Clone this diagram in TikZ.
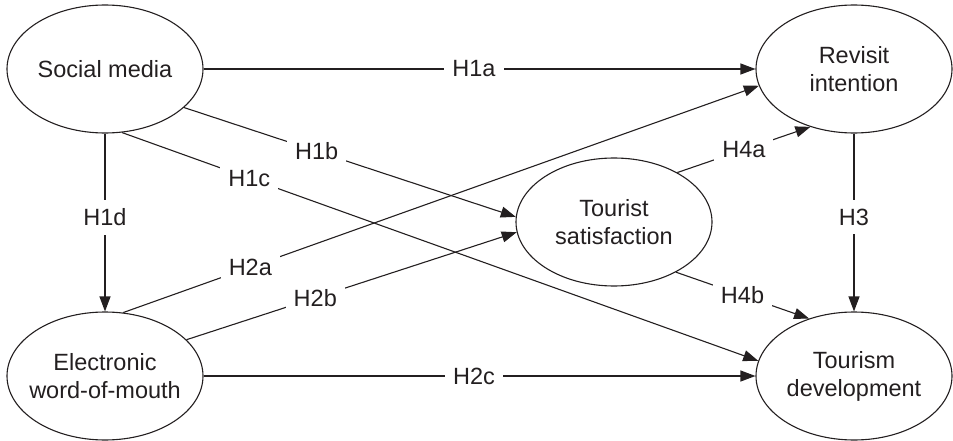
\documentclass[tikz,border=0pt]{standalone}
\usepackage{fontspec}
\setmainfont{Liberation Sans}
\usetikzlibrary{shapes.geometric,arrows.meta}
\definecolor{ink}{RGB}{35,31,32}
\begin{document}
\begin{tikzpicture}[x=1pt,y=-1pt,
  every node/.style={font=\fontsize{23.5}{28}\selectfont, text=ink},
  ell/.style={ellipse, draw=ink, line width=1.1pt, minimum width=196pt, minimum height=128pt, inner sep=0pt},
  lbl/.style={align=center, inner sep=0pt},
  conn/.style={draw=ink, line width=1.1pt, -{Triangle[length=15pt,width=11pt]}},
  hyp/.style={fill=white, inner xsep=8pt, inner ysep=9pt}]
\useasboundingbox (0,0) rectangle (953,441);

\node[ell] (sm) at (105,69) {};
\node[ell] (ri) at (854,69) {};
\node[ell] (ts) at (614,222) {};
\node[ell] (ew) at (105,376) {};
\node[ell] (td) at (854,376) {};

\node[lbl] (smt) at (sm) {Social media};
\node[lbl] (rit) at (ri) {Revisit\\intention};
\node[lbl] (tst) at (ts) {Tourist\\satisfaction};
\node[lbl] (ewt) at (ew) {Electronic\\word-of-mouth};
\node[lbl] (tdt) at (td) {Tourism\\development};

\draw[conn] (sm.east) -- node[hyp,pos=0.49] {H1a} (ri.west);
\draw[conn] (sm.-26) -- node[hyp,pos=0.4] {H1b} (ts.177);
\draw[conn] (sm.-75) -- node[hyp,pos=0.2] {H1c} (td.171);
\draw[conn] (sm.south) -- node[hyp,pos=0.47] {H1d} (ew.north);
\draw[conn] (ew.74) -- node[hyp,pos=0.2] {H2a} (ri.190);
\draw[conn] (ew.24) -- node[hyp,pos=0.39] {H2b} (ts.186);
\draw[conn] (ew.east) -- node[hyp,pos=0.49] {H2c} (td.west);
\draw[conn] (ri.south) -- node[hyp,pos=0.47] {H3} (td.north);
\draw[conn] (ts.38) -- node[hyp,pos=0.5] {H4a} (ri.233);
\draw[conn] (ts.-39) -- node[hyp,pos=0.5] {H4b} (td.128);
\end{tikzpicture}
\end{document}
